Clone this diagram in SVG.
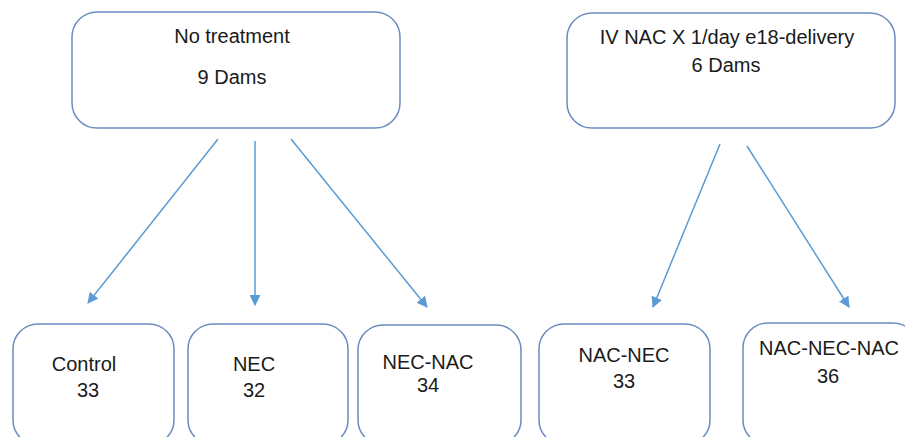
<svg xmlns="http://www.w3.org/2000/svg" width="905" height="437" viewBox="0 0 905 437">
<defs>
<marker id="ah" viewBox="0 0 10 10" refX="9" refY="5" markerWidth="11" markerHeight="11" markerUnits="userSpaceOnUse" orient="auto">
<path d="M0,0 L10,5 L0,10 Z" fill="#5B9BD5"/>
</marker>
</defs>
<style>
.box{fill:#fff;stroke:#6A8BC0;stroke-width:1.5}
.t{font-family:"Liberation Sans",Arial,sans-serif;font-size:20px;fill:#1a1a1a;text-anchor:middle}
.c{stroke:#5B9BD5;stroke-width:1.5;fill:none;marker-end:url(#ah)}
</style>
<rect width="905" height="437" fill="#fff"/>
<g id="no-treatment">
<rect class="box" x="72" y="12" width="328" height="116" rx="25"/>
<text class="t" x="232" y="43">No treatment</text>
<text class="t" x="232" y="84">9 Dams</text>
</g>
<g id="iv-nac">
<rect class="box" x="567" y="13" width="328" height="115" rx="25"/>
<text class="t" x="727" y="44">IV NAC X 1/day e18-delivery</text>
<text class="t" x="726" y="72">6 Dams</text>
</g>
<g id="control">
<rect class="box" x="13" y="324" width="161" height="121" rx="25"/>
<text class="t" x="84" y="371">Control</text>
<text class="t" x="88" y="397">33</text>
</g>
<g id="nec">
<rect class="box" x="188" y="324" width="160" height="121" rx="25"/>
<text class="t" x="254" y="371">NEC</text>
<text class="t" x="254" y="397">32</text>
</g>
<g id="nec-nac">
<rect class="box" x="358" y="325" width="163" height="120" rx="25"/>
<text class="t" x="428" y="369">NEC-NAC</text>
<text class="t" x="428" y="392">34</text>
</g>
<g id="nac-nec">
<rect class="box" x="539" y="324" width="171" height="121" rx="25"/>
<text class="t" x="624" y="362">NAC-NEC</text>
<text class="t" x="624" y="388">33</text>
</g>
<g id="nac-nec-nac">
<rect class="box" x="743" y="323" width="175" height="122" rx="25"/>
<text class="t" x="829" y="355">NAC-NEC-NAC</text>
<text class="t" x="828" y="383">36</text>
</g>
<g id="connectors">
<line class="c" x1="218" y1="139" x2="88" y2="303"/>
<line class="c" x1="255" y1="141" x2="255" y2="305"/>
<line class="c" x1="291" y1="139" x2="427" y2="307"/>
<line class="c" x1="720" y1="144" x2="653" y2="307"/>
<line class="c" x1="747" y1="146" x2="849" y2="307"/>
</g>
</svg>
